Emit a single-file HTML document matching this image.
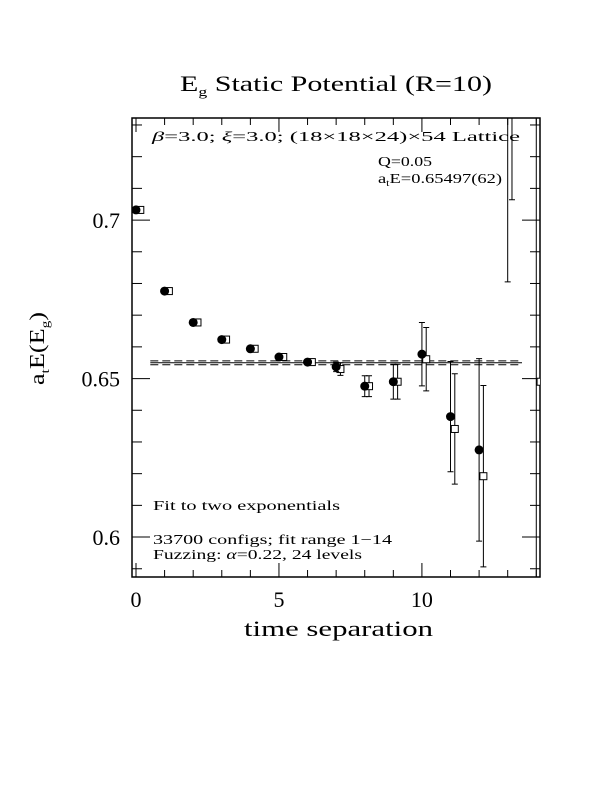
<!DOCTYPE html>
<html><head><meta charset="utf-8"><style>
html,body{margin:0;padding:0;background:#fff;width:612px;height:792px;overflow:hidden;}
svg{display:block;font-family:"Liberation Serif",serif;}
</style></head><body>
<svg id="chart" width="612" height="792" viewBox="0 0 612 792" xmlns="http://www.w3.org/2000/svg">
<text x="180" y="91" font-size="22" textLength="312" lengthAdjust="spacingAndGlyphs">E<tspan font-size="13" dy="5">g</tspan><tspan dy="-5"> Static Potential (R=10)</tspan></text>
<text x="244" y="636" font-size="22" textLength="189" lengthAdjust="spacingAndGlyphs">time separation</text>
<text transform="translate(44,385) rotate(-90)" font-size="21" textLength="73" lengthAdjust="spacingAndGlyphs">a<tspan font-size="12" dy="5">t</tspan><tspan dy="-5">E(E</tspan><tspan font-size="12" dy="5">g</tspan><tspan dy="-5">)</tspan></text>
<g id="plot"></g>
<text x="152" y="141" font-size="14" textLength="368" lengthAdjust="spacingAndGlyphs"><tspan font-style="italic">β</tspan>=3.0; <tspan font-style="italic">ξ</tspan>=3.0; (18×18×24)×54 Lattice</text>
<text x="378" y="166" font-size="14" textLength="54" lengthAdjust="spacingAndGlyphs">Q=0.05</text>
<text x="378" y="183" font-size="14" textLength="124" lengthAdjust="spacingAndGlyphs">a<tspan font-size="9" dy="3">t</tspan><tspan dy="-3">E=0.65497(62)</tspan></text>
<text x="153" y="510" font-size="14" textLength="187" lengthAdjust="spacingAndGlyphs">Fit to two exponentials</text>
<text x="153" y="544" font-size="14" textLength="239" lengthAdjust="spacingAndGlyphs">33700 configs; fit range 1−14</text>
<text x="153" y="559" font-size="14" textLength="209" lengthAdjust="spacingAndGlyphs">Fuzzing: <tspan font-style="italic">α</tspan>=0.22, 24 levels</text>
</svg>
<script>
const times = [0,1,2,3,4,5,6,7,8,9,10,11,12,13,14];
const circleVals = [0.7032,0.6776,0.6677,0.6623,0.6594,0.6568,0.6552,0.6537,0.6476,0.6490,0.6577,0.6380,0.6275,0.760,0.745];
const circleErrs = [0.0005,0.0005,0.0005,0.0005,0.0005,0.0005,0.0006,0.0015,0.0033,0.0055,0.0100,0.0174,0.0288,0.0795,0.2];
const squareVals = [0.7032,0.6776,0.6677,0.6623,0.6594,0.6568,0.6552,0.6530,0.6476,0.6490,0.6561,0.6341,0.6192,0.770,0.649];
const squareErrs = [0.0005,0.0005,0.0005,0.0005,0.0005,0.0005,0.0006,0.0020,0.0033,0.0055,0.0100,0.0174,0.0286,0.0636,0.2];
const fitValue = 0.65497;
const fitErr = 0.00062;
const fitRange = [0.5,13.5];
const xTickLabels = ["0","5","10"];
const yTickLabels = ["0.6","0.65","0.7"];

const X0=132,X1=540,Y0=118,Y1=577;
const xmin=-0.14,xmax=14.13,ymin=0.5874,ymax=0.7322;
const sx=v=>X0+(v-xmin)/(xmax-xmin)*(X1-X0);
const sy=v=>Y1-(v-ymin)/(ymax-ymin)*(Y1-Y0);
const NS="http://www.w3.org/2000/svg";
const plot=document.getElementById('plot');
function mk(tag,attrs,parent){const e=document.createElementNS(NS,tag);for(const k in attrs)e.setAttribute(k,attrs[k]);(parent||plot).appendChild(e);return e;}

const defs=mk('defs',{});
const cp=mk('clipPath',{id:'clip'},defs);
mk('rect',{x:X0,y:Y0,width:X1-X0,height:Y1-Y0},cp);

const frame=mk('rect',{x:X0,y:Y0,width:X1-X0,height:Y1-Y0,fill:'none',stroke:'#000','stroke-width':1.5});



for(let t=0;t<=14;t++){
  const x=sx(t), L=(t%5===0)?14:7;
  const a=mk('line',{x1:x,y1:Y1,x2:x,y2:Y1-L,stroke:'#000','stroke-width':1});
  
  
  const b=mk('line',{x1:x,y1:Y0,x2:x,y2:Y0+L,stroke:'#000','stroke-width':1});
  
  
}
xTickLabels.forEach(s=>{
  const tx=mk('text',{x:sx(+s),y:607,'font-size':22,'text-anchor':'middle'});
  tx.textContent=s;
  
  
});
for(let i=59;i<=73;i++){
  const v=i/100, y=sy(v), L=(i%5===0)?18:10;
  const a=mk('line',{x1:X0,y1:y,x2:X0+L,y2:y,stroke:'#000','stroke-width':1});
  
  
  const b=mk('line',{x1:X1,y1:y,x2:X1-L,y2:y,stroke:'#000','stroke-width':1});
  
  
}
yTickLabels.forEach(s=>{
  const tx=mk('text',{x:120,y:sy(+s)+8,'font-size':22,'text-anchor':'end'});
  tx.textContent=s;
  
  
});

const g=mk('g',{'clip-path':'url(#clip)'});
[[fitValue+fitErr,'8,4'],[fitValue,''],[fitValue-fitErr,'8,4']].forEach(([v,d])=>{
  const l=mk('line',{x1:sx(fitRange[0]),x2:sx(fitRange[1]),y1:sy(v),y2:sy(v),stroke:'#000','stroke-width':1,'stroke-dasharray':d||'none'},g);
  
  
});
function errbar(x,v,e,name){
  const y1=sy(v+e),y2=sy(v-e);
  const p=mk('path',{d:`M${x},${y1}V${y2}M${x-3},${y1}H${x+3}M${x-3},${y2}H${x+3}`,stroke:'#000','stroke-width':1,fill:'none'},g);
  
  
}
times.forEach((t,i)=>{
  const xs=sx(t+0.15);
  errbar(xs,squareVals[i],squareErrs[i],'square-error-bar');
  const r=mk('rect',{x:xs-3.5,y:sy(squareVals[i])-3.5,width:7,height:7,fill:'#fff',stroke:'#000','stroke-width':1},g);
  
  
  const xc=sx(t);
  errbar(xc,circleVals[i],circleErrs[i],'circle-error-bar');
  const c=mk('circle',{cx:xc,cy:sy(circleVals[i]),r:4.5,fill:'#000'},g);
  
  
});
</script>
</body></html>
